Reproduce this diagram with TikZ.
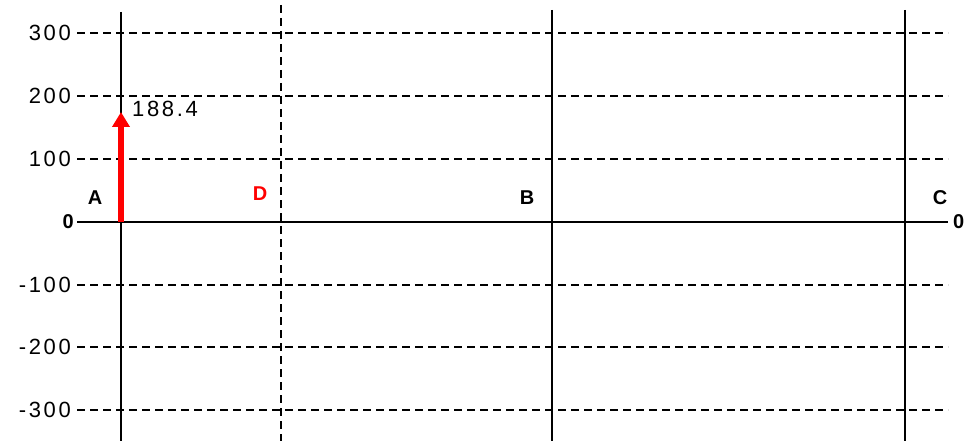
\documentclass[tikz,border=0pt]{standalone}
\usepackage{fontspec}
\setmainfont{Liberation Sans}
\newfontfamily\tickfont[LetterSpace=12]{Liberation Sans}
\usetikzlibrary{arrows.meta}
\begin{document}
\begin{tikzpicture}[x=1pt,y=-1pt,
  grid/.style={black,line width=1.6pt,dash pattern=on 8pt off 5pt},
  solidline/.style={black,line width=2.8pt},
  tick/.style={anchor=east,font=\tickfont\fontsize{22}{22}\selectfont,inner sep=0pt},
  pointlabel/.style={font=\bfseries\fontsize{20}{20}\selectfont,inner sep=0pt},
  force/.style={red,line width=5.5pt,-{Triangle[width=17pt,length=15pt]}}]
\useasboundingbox (0,0) rectangle (964,441);
% horizontal grid lines
\foreach \v/\yy in {300/33,200/96,100/159,-100/285,-200/347,-300/410}{
  \draw[grid] (77,\yy) -- (948,\yy);
  \node[tick] at (71,\yy) {\v};
}
% vertical lines
\draw[grid] (281,5) -- (281,441);
\draw[solidline] (121,12) coordinate (Atop) -- (121,441);
\draw[solidline] (552,10) coordinate (Btop) -- (552,441);
\draw[solidline] (905,10) coordinate (Ctop) -- (905,441);
% axis
\coordinate (O1) at (77,222);
\coordinate (O2) at (948,222);
\draw[solidline] (O1) -- (O2);
\node[pointlabel,anchor=east] (zl) at (74,222) {0};
\node[pointlabel,anchor=west] (zr) at (953,222) {0};
% labels
\node[pointlabel] (A) at (95,198) {A};
\node[pointlabel,red] (D) at (260,194) {D};
\node[pointlabel] (B) at (527,198) {B};
\node[pointlabel] (C) at (940,198) {C};
% force
\coordinate (F0) at (121,222);
\coordinate (F1) at (121,112);
\draw[force] (F0) -- (F1);
\node[tick,anchor=west] (val) at (132,109) {188.4};
\end{tikzpicture}
\end{document}
